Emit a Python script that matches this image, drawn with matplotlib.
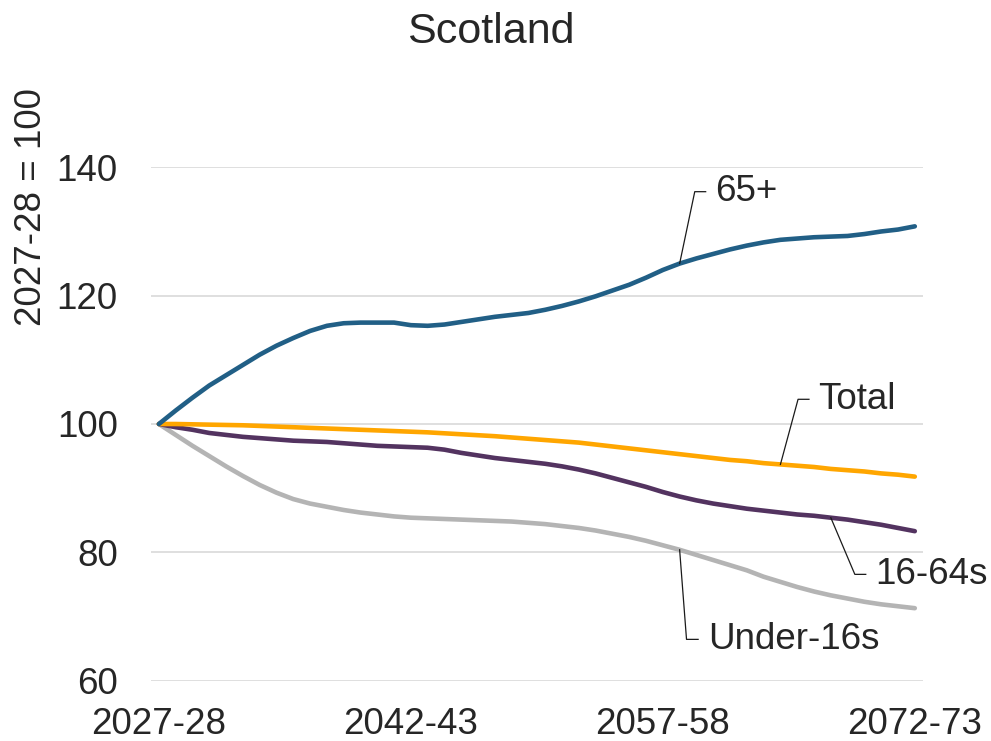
import matplotlib
matplotlib.use("Agg")
import matplotlib.pyplot as plt
import numpy as np

plt.rcParams['font.family'] = ['Liberation Sans', 'DejaVu Sans']

years = [f"{y}-{str(y + 1)[-2:]}" for y in range(2027, 2073)]
tick_labels = ["2027-28", "2042-43", "2057-58", "2072-73"]

over65 = [100, 102.1, 104.1, 106.0, 107.6, 109.2, 110.8, 112.2, 113.4, 114.5,
          115.3, 115.7, 115.8, 115.8, 115.8, 115.4, 115.3, 115.5, 115.9, 116.3,
          116.7, 117.0, 117.3, 117.8, 118.4, 119.1, 119.9, 120.8, 121.7, 122.8,
          124.0, 125.0, 125.8, 126.5, 127.2, 127.8, 128.3, 128.7, 128.9, 129.1,
          129.2, 129.3, 129.6, 130.0, 130.3, 130.8]
total = [100, 100.0, 99.95, 99.9, 99.85, 99.8, 99.7, 99.6, 99.5, 99.4,
         99.3, 99.2, 99.1, 99.0, 98.9, 98.8, 98.7, 98.55, 98.4, 98.25,
         98.1, 97.9, 97.7, 97.5, 97.3, 97.1, 96.8, 96.5, 96.2, 95.9,
         95.6, 95.3, 95.0, 94.7, 94.4, 94.2, 93.9, 93.7, 93.5, 93.3,
         93.0, 92.8, 92.6, 92.3, 92.1, 91.8]
age16_64 = [100, 99.5, 99.1, 98.6, 98.3, 98.0, 97.8, 97.6, 97.4, 97.3,
            97.2, 97.0, 96.8, 96.6, 96.5, 96.4, 96.3, 96.0, 95.5, 95.1,
            94.7, 94.4, 94.1, 93.8, 93.4, 92.9, 92.3, 91.6, 90.9, 90.2,
            89.4, 88.7, 88.1, 87.6, 87.2, 86.8, 86.5, 86.2, 85.9, 85.7,
            85.4, 85.1, 84.7, 84.3, 83.8, 83.3]
under16 = [100, 98.3, 96.6, 95.0, 93.4, 91.9, 90.5, 89.3, 88.3, 87.6,
           87.1, 86.6, 86.2, 85.9, 85.6, 85.4, 85.3, 85.2, 85.1, 85.0,
           84.9, 84.8, 84.6, 84.4, 84.1, 83.8, 83.4, 82.9, 82.4, 81.8,
           81.1, 80.4, 79.6, 78.8, 78.0, 77.2, 76.2, 75.4, 74.6, 73.9,
           73.3, 72.8, 72.3, 71.9, 71.6, 71.3]

TXT = '#262626'
fig = plt.figure(figsize=(9.91, 7.41), dpi=100)
ax = fig.add_axes([151/991, 60.3/741, 771.7/991, 513.4/741])

x = np.arange(len(years))
kw = dict(lw=3.3, solid_capstyle='round', solid_joinstyle='round')
ax.plot(x, under16, color='#B4B4B4', zorder=3, **kw)
ax.plot(x, age16_64, color='#533360', zorder=4, **kw)
ax.plot(x, total, color='#FFA600', zorder=5, **kw)
ax.plot(x, over65, color='#215F86', zorder=6, **kw)

ax.set_xlim(-0.47, 45.47)
ax.set_ylim(60, 140)
ax.set_yticks([60, 80, 100, 120, 140])
ax.set_xticks([years.index(t) for t in tick_labels])
ax.set_xticklabels(tick_labels)
ax.grid(axis='y', color='#D9D9D9', lw=1.2, zorder=0)
ax.set_axisbelow(True)
for s in ax.spines.values():
    s.set_visible(False)
ax.tick_params(axis='both', length=0, labelsize=26.5, labelcolor=TXT)
ax.tick_params(axis='y', pad=24)
ax.tick_params(axis='x', pad=19)

# leader labels: (series, anchor index, elbow (x,y), end x, text x, label)
labels = [
    (over65, 31, (31.9, 136.2), 32.55, 33.1, "65+"),
    (total, 37, (38.05, 103.85), 38.7, 39.25, "Total"),
    (age16_64, 40, (41.43, 76.57), 42.08, 42.65, "16-64s"),
    (under16, 31, (31.41, 66.44), 32.1, 32.7, "Under-16s"),
]
for series, idx, (ex, ey), endx, tx, lab in labels:
    ax.plot([idx, ex, endx], [series[idx], ey, ey], color='#1a1a1a', lw=0.9,
            zorder=7, clip_on=False)
    ax.text(tx, ey, lab, fontsize=26.5, color=TXT, ha='left', va='center',
            clip_on=False)

fig.text(491/991, 1 - 43/741, "Scotland", fontsize=31, color=TXT,
         ha='center', va='baseline')
fig.text(32/991, 1 - 207.5/741, "2027-28 = 100", fontsize=26.5, color=TXT,
         rotation=90, ha='center', va='center')

fig.savefig("out.png", dpi=100)
